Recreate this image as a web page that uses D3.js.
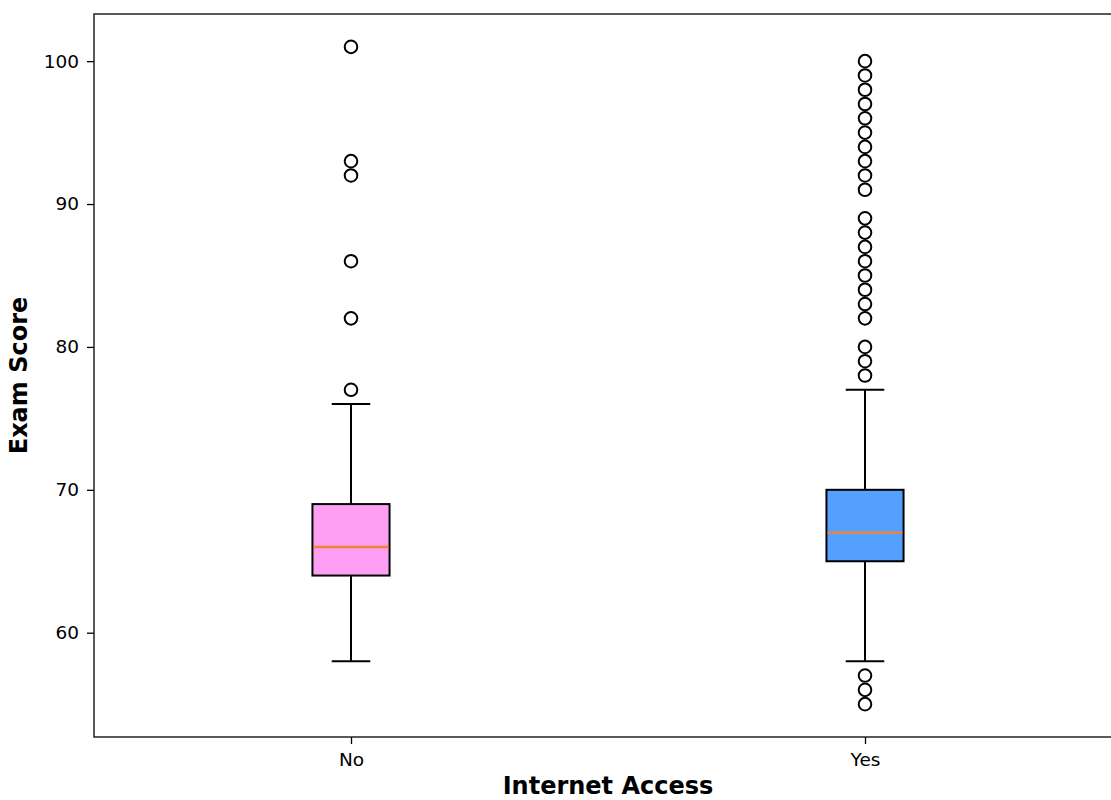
<!DOCTYPE html>
<html><head><meta charset="utf-8">
<script src="https://cdn.jsdelivr.net/npm/d3@7"></script>
<style>body{margin:0;background:#fff}svg{display:block}text{font-family:"DejaVu Sans",sans-serif}</style>
</head><body><svg id="c" width="1111" height="800"></svg>
<script>
const categories = ["No", "Yes"];
const q1 = [64, 65];
const medians = [66, 67];
const q3 = [69, 70];
const whiskerLow = [58, 58];
const whiskerHigh = [76, 77];
const outliersNo = [77, 82, 86, 92, 93, 101];
const outliersYes = [55, 56, 57, 78, 79, 80, 82, 83, 84, 85, 86, 87, 88, 89, 91, 92, 93, 94, 95, 96, 97, 98, 99, 100];
const outliers = [outliersNo, outliersYes];
const boxColors = ["#ff9ff3", "#54a0ff"];
const yTicks = [60, 70, 80, 90, 100];

const svg = d3.select("#c");
const L = 94, R = 1122, T = 14, B = 737;
const x = d3.scaleLinear().domain([0.5, 2.5]).range([L, R]);
const y = d3.scaleLinear().domain([52.7, 103.3]).range([B, T]);
const bw = 0.15;

const g = svg.append("g");
categories.forEach((c, i) => {
  const cx = x(i + 1);
  const hw = x(i + 1 + bw / 2) - cx;
  const cw = hw / 2;
  g.append("line").attr("x1", cx).attr("x2", cx).attr("y1", y(q1[i])).attr("y2", y(whiskerLow[i])).attr("stroke", "#000").attr("stroke-width", 2);
  g.append("line").attr("x1", cx).attr("x2", cx).attr("y1", y(q3[i])).attr("y2", y(whiskerHigh[i])).attr("stroke", "#000").attr("stroke-width", 2);
  g.append("line").attr("x1", cx - cw).attr("x2", cx + cw).attr("y1", y(whiskerLow[i])).attr("y2", y(whiskerLow[i])).attr("stroke", "#000").attr("stroke-width", 2);
  g.append("line").attr("x1", cx - cw).attr("x2", cx + cw).attr("y1", y(whiskerHigh[i])).attr("y2", y(whiskerHigh[i])).attr("stroke", "#000").attr("stroke-width", 2);
  g.append("rect").attr("x", cx - hw).attr("y", y(q3[i])).attr("width", 2 * hw).attr("height", y(q1[i]) - y(q3[i]))
    .attr("fill", boxColors[i]).attr("stroke", "#000").attr("stroke-width", 2);
  g.append("line").attr("x1", cx - hw + 1).attr("x2", cx + hw - 1).attr("y1", y(medians[i])).attr("y2", y(medians[i])).attr("stroke", "#f5822e").attr("stroke-width", 2.4);
  g.selectAll(null).data(outliers[i]).enter().append("circle")
    .attr("cx", cx).attr("cy", d => y(d)).attr("r", 6.3).attr("fill", "none").attr("stroke", "#000").attr("stroke-width", 2);
});

const yAxis = d3.axisLeft(y).tickValues(yTicks).tickSize(7).tickPadding(8);
const ya = svg.append("g").attr("transform", `translate(${L},0)`).call(yAxis);
ya.select(".domain").remove();
ya.selectAll("text").attr("font-size", 18.5).attr("fill", "#000");
ya.selectAll("line").attr("stroke", "#000").attr("stroke-width", 1.3);
const xAxis = d3.axisBottom(x).tickValues([1, 2]).tickFormat((d, i) => categories[i]).tickSize(7).tickPadding(9);
const xa = svg.append("g").attr("transform", `translate(0,${B})`).call(xAxis);
xa.select(".domain").remove();
xa.selectAll("text").attr("font-size", 18.5).attr("fill", "#000");
xa.selectAll("line").attr("stroke", "#000").attr("stroke-width", 1.3);
svg.append("rect").attr("x", L).attr("y", T).attr("width", R - L).attr("height", B - T).attr("fill", "none").attr("stroke", "#222").attr("stroke-width", 1.5);

svg.append("text").attr("x", (L + R) / 2).attr("y", 794).attr("text-anchor", "middle").attr("font-size", 24).attr("font-weight", "bold").text("Internet Access");
svg.append("text").attr("transform", `translate(27,${(T + B) / 2}) rotate(-90)`).attr("text-anchor", "middle").attr("font-size", 24).attr("font-weight", "bold").text("Exam Score");
</script></body></html>
